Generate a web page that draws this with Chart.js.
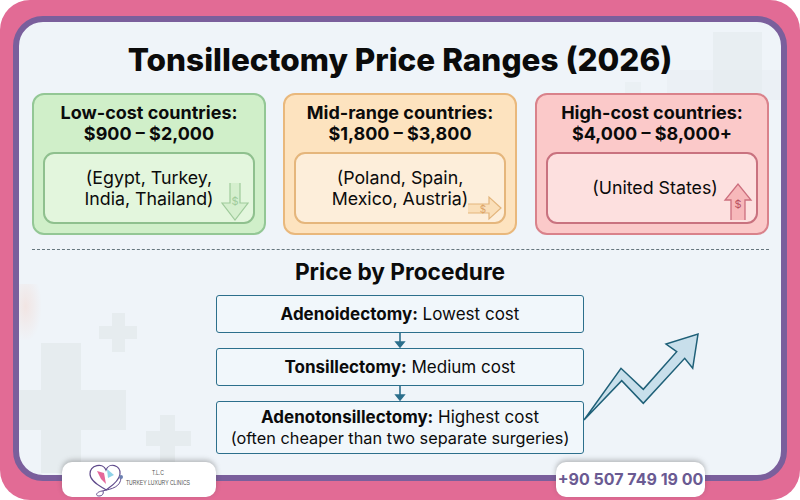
<!DOCTYPE html>
<html>
<head>
<meta charset="utf-8">
<script src="https://cdn.jsdelivr.net/npm/chart.js@4"></script>
<style>
html,body{margin:0;padding:0;background:#fff;}
body{width:800px;height:500px;overflow:hidden;position:relative;font-family:Inter,"Open Sans",sans-serif;color:#0b0b0b;}
.abs{position:absolute;box-sizing:border-box;}
#frame{left:0;top:0;width:800px;height:500px;background:#e26b95;border-radius:30px;}
#inner{left:13px;top:16px;width:774px;height:465px;background:#eff4f9;border:6px solid #7a5f9c;border-radius:30px;overflow:hidden;}
.cross{position:absolute;background:#e6ecef;}
#blush{position:absolute;left:0;top:262px;width:22px;height:56px;background:radial-gradient(ellipse at 30% 40%,rgba(245,200,185,.35),rgba(245,200,185,0) 75%);}
h1{position:absolute;margin:0;left:0;width:800px;top:38px;text-align:center;font-size:31.5px;line-height:44px;font-weight:800;}
.card{border:2px solid;border-radius:12px;width:234px;height:142px;top:93px;}
.card .head{position:absolute;left:0;right:0;top:7px;text-align:center;font-size:18px;line-height:21px;font-weight:700;}
.card .box{position:absolute;left:9px;top:57px;width:212px;height:72px;border:2px solid;border-radius:11px;display:flex;align-items:center;justify-content:center;text-align:center;font-size:17.8px;line-height:21px;font-weight:400;padding-bottom:1px;box-sizing:border-box;}
#divider{left:32px;top:249px;width:737px;border-top:1.5px dashed #66767e;}
h2{position:absolute;margin:0;left:0;width:800px;top:257px;text-align:center;font-size:22.7px;line-height:30px;font-weight:700;}
.step{left:216px;width:368px;border:1.8px solid #2c6f8c;border-radius:3px;background:#f1f7fb;text-align:center;font-size:17px;line-height:21px;display:flex;flex-direction:column;justify-content:center;}
.step b{font-weight:700;}
.step .note{font-size:16.3px;}
.badge{top:462px;height:35px;background:#fff;border-radius:10px;box-shadow:0 -2px 5px rgba(70,70,70,.35);}
#phone{left:556px;width:149px;color:#6a5a92;font-weight:700;font-size:16px;line-height:35px;text-align:center;white-space:nowrap;}
#logo{left:62px;width:154px;}
#logo .t{position:absolute;left:32px;width:128px;text-align:center;font-family:"Liberation Sans",sans-serif;font-size:7.5px;color:#555;line-height:10px;white-space:nowrap;transform:scaleX(.68);}
#trend{position:absolute;left:570px;top:325px;}
svg{position:absolute;overflow:visible;}
</style>
</head>
<body>
<div class="abs" id="frame"></div>
<div class="abs" id="inner">
  <div id="blush"></div>
  <div class="cross" style="left:22px;top:321px;width:40px;height:130px"></div>
  <div class="cross" style="left:0;top:368px;width:107px;height:40px"></div>
  <div class="cross" style="left:93px;top:291px;width:13px;height:39px"></div>
  <div class="cross" style="left:80px;top:304px;width:38px;height:13px"></div>
  <div class="cross" style="left:141px;top:393px;width:15px;height:50px"></div>
  <div class="cross" style="left:127px;top:409px;width:45px;height:15px"></div>
  <div class="cross" style="left:694px;top:10px;width:49px;height:100px;opacity:.75"></div>
  <div class="cross" style="left:648px;top:48px;width:114px;height:30px;opacity:.4"></div>
  <div class="cross" style="left:606px;top:60px;width:16px;height:20px;opacity:.5"></div>
</div>
<h1 id="title"></h1>
<div id="cards"></div>
<div class="abs" id="divider"></div>
<h2 id="subtitle"></h2>
<div id="steps"></div>

<svg style="left:0;top:0" width="800" height="500">
  <g stroke="#2c6f8c" stroke-width="1.6" fill="#2c6f8c">
    <line x1="400" y1="333" x2="400" y2="344"/><path d="M396 342h8l-4 5z"/>
    <line x1="400" y1="386" x2="400" y2="397"/><path d="M396 395h8l-4 5z"/>
  </g>
  <g fill="#c3e6bd" fill-opacity=".45" stroke="#9fcb9b" stroke-width="1.2">
    <path d="M230 183v20h-8l13 17 13-17h-8v-20"/>
  </g>
  <text x="235" y="205" font-size="11" text-anchor="middle" fill="#9fcb9b" font-family="Inter">$</text>
  <g fill="#f9d5a3" fill-opacity=".6" stroke="#e3b57c" stroke-width="1.2">
    <path d="M468 204h21v-7l12 11-12 11v-6h-21"/>
  </g>
  <text x="483" y="213" font-size="10" text-anchor="middle" fill="#dca468" font-family="Inter">$</text>
  <g fill="#f7b8ba" stroke="#cc6f7e" stroke-width="1.3">
    <path d="M731 220v-20h-6l13-16 13 16h-6v20"/>
  </g>
  <text x="738" y="208" font-size="11" text-anchor="middle" fill="#b9505f" font-family="Inter">$</text>
</svg>

<canvas id="trend" width="140" height="105"></canvas>

<div class="abs badge" id="logo">
  <svg style="left:26px;top:0" width="36" height="35" viewBox="0 0 36 35">
    <path d="M2 12 C2 3 15 0 18 8 C21 0 33 3 32 12 C31 20 22 25 18 28 C14 25 2 20 2 12Z" fill="none" stroke="#5f4a8b" stroke-width="1.2"/>
    <path d="M9 9 L16 11 L18 22 L13 17Z" fill="#e5679a"/>
    <path d="M19 7 L26 13 L20 16Z" fill="#8fd3e8"/>
    <path d="M33 15 C33 25 24 27 14 29 C8 30 7 34 11 34 C14 34 16 32 15 29" fill="none" stroke="#5f4a8b" stroke-width="1"/>
    <circle cx="33" cy="15" r="2" fill="#6b7fb0"/>
  </svg>
  <div class="t" id="logoTop" style="top:6px"></div>
  <div class="t" id="logoName" style="top:16px"></div>
</div>
<div class="abs badge" id="phone"></div>

<script>
var title = "Tonsillectomy Price Ranges (2026)";
var subtitle = "Price by Procedure";

var tiers = ["Low-cost countries:", "Mid-range countries:", "High-cost countries:"];
var priceRanges = ["$900 – $2,000", "$1,800 – $3,800", "$4,000 – $8,000+"];
var countries = ["(Egypt, Turkey,<br>India, Thailand)", "(Poland, Spain,<br>Mexico, Austria)", "(United States)"];

var procedures = ["Adenoidectomy:", "Tonsillectomy:", "Adenotonsillectomy:"];
var procedureCost = ["Lowest cost", "Medium cost", "Highest cost"];
var procedureNote = ["", "", "(often cheaper than two separate surgeries)"];

// outline of the rising cost arrow
var trendX = [14, 51, 73.3, 106.7, 96, 128, 122.7, 114.7, 73.3, 51.7, 14];
var trendY = [10, 61.7, 40.7, 78.3, 86, 96, 61.7, 71.7, 26.7, 49.3, 10];

var phone = "+90 507 749 19 00";
var logoTop = "T.L.C";
var logoName = "TURKEY LUXURY CLINICS";

var cardLook = [
	{left:32, fill:"#d0efc9", line:"#93c795", inner:"#e3f6dd", innerLine:"#8fc08e", shift:0},
	{left:283, fill:"#fde3bf", line:"#e9b87c", inner:"#fdeeda", innerLine:"#e5b67c", shift:0},
	{left:535, fill:"#fbc9c9", line:"#d9828b", inner:"#fde0df", innerLine:"#c9727f", shift:6}
];
var stepBoxes = [{top:295, h:38}, {top:348, h:38}, {top:401, h:53}];

document.getElementById("title").textContent = title;
document.getElementById("subtitle").textContent = subtitle;
document.getElementById("phone").textContent = phone;
document.getElementById("logoTop").textContent = logoTop;
document.getElementById("logoName").textContent = logoName;

var cardsEl = document.getElementById("cards");
for (var i in tiers) {
	var c = cardLook[i];
	var d = document.createElement("div");
	d.className = "abs card";
	d.style.cssText = "left:" + c.left + "px;background:" + c.fill + ";border-color:" + c.line;
	d.innerHTML = '<div class="head">' + tiers[i] + "<br>" + priceRanges[i] + "</div>" +
		'<div class="box" style="background:' + c.inner + ";border-color:" + c.innerLine + ";padding-left:" + c.shift + 'px">' + countries[i] + "</div>";
	cardsEl.appendChild(d);
}

var stepsEl = document.getElementById("steps");
for (var j in procedures) {
	var s = document.createElement("div");
	s.className = "abs step";
	s.style.cssText = "top:" + stepBoxes[j].top + "px;height:" + stepBoxes[j].h + "px";
	s.innerHTML = "<div><b>" + procedures[j] + "</b> " + procedureCost[j] + "</div>" +
		(procedureNote[j] ? '<div class="note">' + procedureNote[j] + "</div>" : "");
	stepsEl.appendChild(s);
}

var trendPoints = [];
for (var k in trendX) {
	trendPoints.push({x: trendX[k], y: trendY[k]});
}

new Chart(document.getElementById("trend"), {
	type: "scatter",
	data: {
		datasets: [{
			data: trendPoints,
			showLine: true,
			fill: "shape",
			tension: 0,
			borderColor: "#1f6078",
			borderWidth: 1.5,
			backgroundColor: "#c8dfeb",
			pointRadius: 0
		}]
	},
	options: {
		responsive: false,
		animation: false,
		layout: {padding: 0},
		plugins: {legend: {display: false}, tooltip: {enabled: false}},
		scales: {
			x: {type: "linear", min: 0, max: 140, display: false},
			y: {type: "linear", min: 0, max: 105, display: false}
		}
	}
});
</script>
</body>
</html>
